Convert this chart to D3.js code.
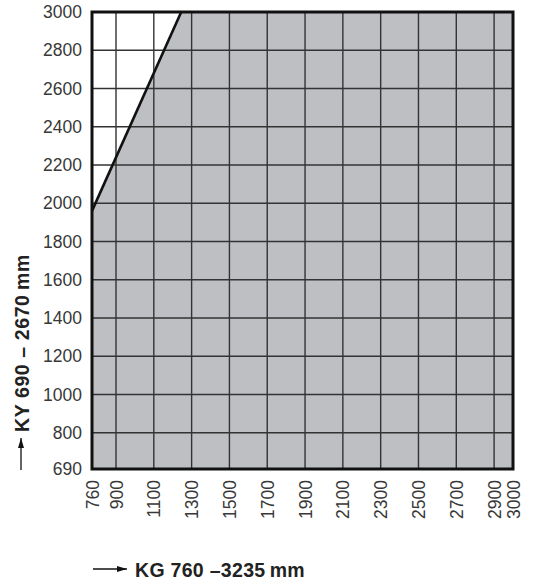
<!DOCTYPE html>
<html>
<head>
<meta charset="utf-8">
<script src="https://cdn.jsdelivr.net/npm/d3@7"></script>
<style>
  html, body { margin: 0; padding: 0; background: #fff; }
  svg { display: block; }
  text { font-family: "Liberation Sans", Arial, sans-serif; }
</style>
</head>
<body>
<svg id="chart" width="547" height="582"></svg>
<script>
// ---- data ----
const xTicks = [760, 900, 1100, 1300, 1500, 1700, 1900, 2100, 2300, 2500, 2700, 2900, 3000];
const yTicks = [690, 800, 1000, 1200, 1400, 1600, 1800, 2000, 2200, 2400, 2600, 2800, 3000];
const xDomain = [760, 900, 3000];
const yDomain = [690, 800, 3000];
// boundary of the permitted (shaded) region: KG vs KY
const boundaryKG = [760, 1245];
const boundaryKY = [1960, 3000];
const xTitle = "KG 760 \u20133235\u2009mm";
const yTitle = "KY 690 \u2013 2670\u2009mm";

// ---- layout ----
const pL = 92, pR = 513, pT = 12, pB = 469;
const svg = d3.select("#chart");

const x = d3.scaleLinear().domain(xDomain).range([pL, 116, pR]);
const y = d3.scaleLinear().domain(yDomain).range([pB, 432.7, pT]);

// shaded region
const xmin = xDomain[0], xmax = xDomain[xDomain.length - 1];
const ymin = yDomain[0], ymax = yDomain[yDomain.length - 1];
const poly = [[xmin, ymin], [boundaryKG[0], boundaryKY[0]]];
for (let i = 1; i < boundaryKG.length; i++) poly.push([boundaryKG[i], boundaryKY[i]]);
poly.push([xmax, ymax], [xmax, ymin]);
svg.append("path")
  .attr("d", d3.line().x(d => x(d[0])).y(d => y(d[1]))(poly) + "Z")
  .attr("fill", "#bebfc3");

// grid
const grid = svg.append("g").attr("stroke", "#333").attr("stroke-width", 1.4);
grid.selectAll("line.v").data(xTicks.slice(1, -1)).join("line")
  .attr("x1", d => x(d)).attr("x2", d => x(d)).attr("y1", pT).attr("y2", pB);
grid.selectAll("line.h").data(yTicks.slice(1, -1)).join("line")
  .attr("y1", d => y(d)).attr("y2", d => y(d)).attr("x1", pL).attr("x2", pR);

// boundary line
svg.append("path")
  .attr("d", d3.line().x((d, i) => x(boundaryKG[i])).y(d => y(d))(boundaryKY))
  .attr("stroke", "#111").attr("stroke-width", 2.6).attr("fill", "none");

// frame
svg.append("rect").attr("x", pL).attr("y", pT)
  .attr("width", pR - pL).attr("height", pB - pT)
  .attr("fill", "none").attr("stroke", "#111").attr("stroke-width", 3);

// y axis labels
const yAxis = d3.axisLeft(y).tickValues(yTicks).tickSize(0).tickPadding(10).tickFormat(d3.format("d"));
const gy = svg.append("g").attr("transform", `translate(${pL},0)`).call(yAxis);
gy.select(".domain").remove();
gy.selectAll("text").attr("font-size", 17.5).attr("fill", "#383838")
  .attr("font-family", "Liberation Sans, Arial, sans-serif");

// x axis labels (rotated)
const xAxis = d3.axisBottom(x).tickValues(xTicks).tickSize(0).tickFormat(d3.format("d"));
const gx = svg.append("g").attr("transform", `translate(0,${pB})`).call(xAxis);
gx.select(".domain").remove();
gx.selectAll("text")
  .attr("font-size", 17.5).attr("fill", "#383838")
  .attr("font-family", "Liberation Sans, Arial, sans-serif")
  .attr("transform", "rotate(-90)")
  .attr("text-anchor", "end")
  .attr("x", -11).attr("y", 0).attr("dy", "0.35em");

// arrow marker
const defs = svg.append("defs");
defs.append("marker").attr("id", "arr").attr("viewBox", "0 0 10 6")
  .attr("refX", 10).attr("refY", 3).attr("markerWidth", 10).attr("markerHeight", 6)
  .attr("markerUnits", "userSpaceOnUse").attr("orient", "auto")
  .append("path").attr("d", "M0,0L10,3L0,6Z").attr("fill", "#111");

// x title
svg.append("line").attr("x1", 93).attr("x2", 127).attr("y1", 569).attr("y2", 569)
  .attr("stroke", "#111").attr("stroke-width", 1.3).attr("marker-end", "url(#arr)");
svg.append("text").attr("x", 135).attr("y", 576.5)
  .attr("font-size", 19.5).attr("font-weight", "bold").attr("fill", "#222")
  .attr("letter-spacing", 0.3)
  .attr("xml:space", "preserve").text(xTitle);

// y title
svg.append("line").attr("x1", 21).attr("x2", 21).attr("y1", 470).attr("y2", 438)
  .attr("stroke", "#111").attr("stroke-width", 1.3).attr("marker-end", "url(#arr)");
svg.append("text").attr("transform", "translate(28.5,432) rotate(-90)")
  .attr("font-size", 19.5).attr("font-weight", "bold").attr("fill", "#222")
  .attr("letter-spacing", 0.6)
  .attr("xml:space", "preserve").text(yTitle);
</script>
</body>
</html>
